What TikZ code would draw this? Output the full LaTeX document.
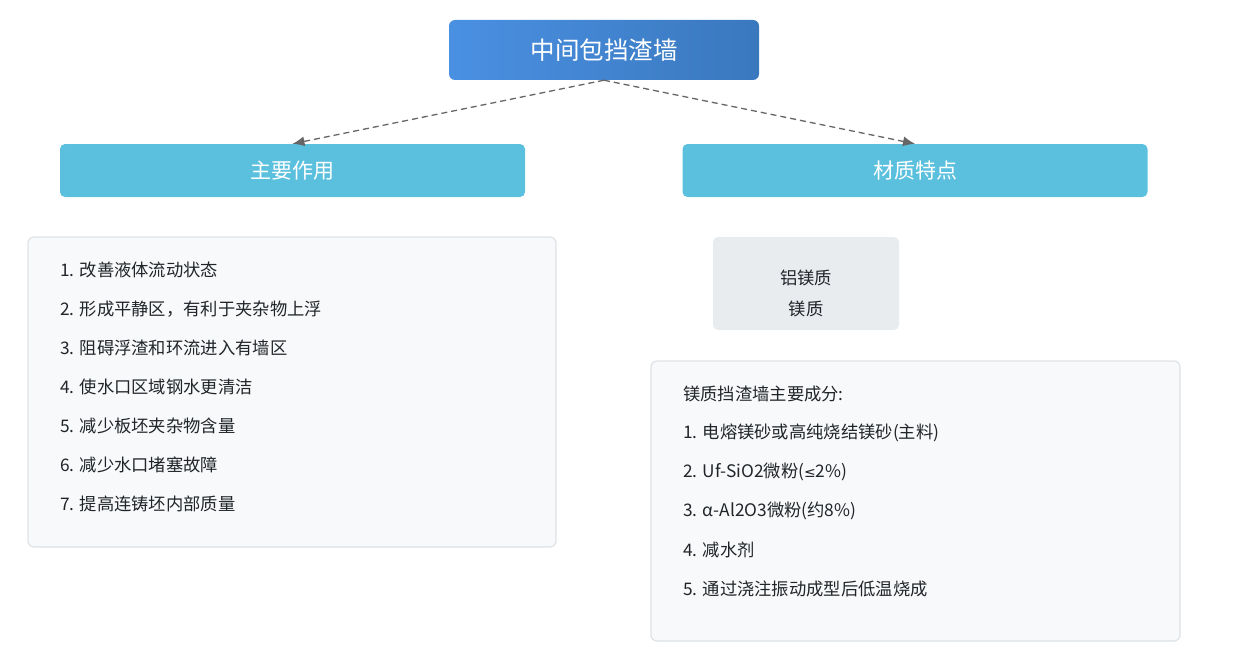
\documentclass[tikz,border=0pt]{standalone}
\usepackage{fontspec}
\setmainfont{Noto Sans CJK SC}
\newfontfamily\symfont{DejaVu Sans}
\usetikzlibrary{arrows.meta}
\definecolor{hdr}{HTML}{5BC0DE}
\definecolor{tleft}{HTML}{4A90E2}
\definecolor{tright}{HTML}{3A78BE}
\definecolor{listbg}{HTML}{F8F9FA}
\definecolor{listbd}{HTML}{DEE2E6}
\definecolor{graybox}{HTML}{E9ECEF}
\definecolor{txt}{HTML}{212529}
\definecolor{conn}{HTML}{666666}
\tikzset{
  x=1pt, y=-1pt,
  titlebox/.style={rounded corners=6pt, left color=tleft, right color=tright, draw=none,
    minimum width=310pt, minimum height=60pt, text=white, font=\fontsize{24.5}{28}\selectfont, inner sep=0pt},
  hdrbox/.style={rounded corners=5pt, fill=hdr, draw=none, minimum width=465pt, minimum height=53pt,
    text=white, font=\fontsize{21}{25}\selectfont, inner sep=0pt},
  listbox/.style={rounded corners=6pt, fill=listbg, draw=listbd, line width=1.2pt, inner sep=0pt},
  smallbox/.style={rounded corners=5pt, fill=graybox, draw=none, minimum width=186pt, minimum height=93pt, inner sep=0pt},
  item/.style={anchor=west, text=txt, font=\fontsize{17.3}{20}\selectfont, inner sep=0pt},
  conn/.style={draw=conn, line width=1.3pt, dash pattern=on 6pt off 4pt, -{Latex[length=12pt,width=10pt]}},
}
\begin{document}
\begin{tikzpicture}
\useasboundingbox (0,0) rectangle (1245,661);
\node[titlebox] (title) at (604,50) {中间包挡渣墙};
\node[hdrbox] (h1) at (292.5,170.5) {主要作用};
\node[hdrbox] (h2) at (915,170.5) {材质特点};
\draw[conn] (title.south) -- (h1.north);
\draw[conn] (title.south) -- (h2.north);

\node[listbox, minimum width=528pt, minimum height=310pt] (lb) at (292,392) {};
\node[item] (l1) at (60,270) {1. 改善液体流动状态};
\node[item] (l2) at (60,309) {2. 形成平静区，有利于夹杂物上浮};
\node[item] (l3) at (60,348) {3. 阻碍浮渣和环流进入有墙区};
\node[item] (l4) at (60,387) {4. 使水口区域钢水更清洁};
\node[item] (l5) at (60,426) {5. 减少板坯夹杂物含量};
\node[item] (l6) at (60,465) {6. 减少水口堵塞故障};
\node[item] (l7) at (60,504) {7. 提高连铸坯内部质量};

\node[smallbox] (sb) at (806,283.5) {};
\node[text=txt, font=\fontsize{17.3}{20}\selectfont, inner sep=0pt] (s1) at (806,278) {铝镁质};
\node[text=txt, font=\fontsize{17.3}{20}\selectfont, inner sep=0pt] (s2) at (806,309) {镁质};

\node[listbox, minimum width=529pt, minimum height=280pt] (rb) at (915.5,501) {};
\node[item] (r0) at (683,394) {镁质挡渣墙主要成分:};
\node[item] (r1) at (683,433) {1. 电熔镁砂或高纯烧结镁砂(主料)};
\node[item] (r2) at (683,472) {2. Uf-SiO2微粉({\symfont\fontsize{14}{16}\selectfont ≤}2\%)};
\node[item] (r3) at (683,511) {3. α-Al2O3微粉(约8\%)};
\node[item] (r4) at (683,550) {4. 减水剂};
\node[item] (r5) at (683,589) {5. 通过浇注振动成型后低温烧成};
\end{tikzpicture}
\end{document}
